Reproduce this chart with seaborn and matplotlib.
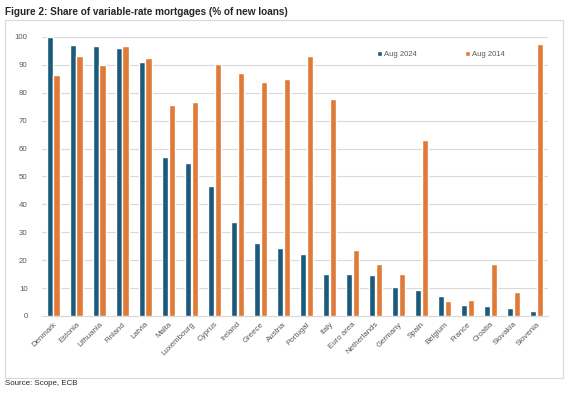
import numpy as np
import pandas as pd
import matplotlib.pyplot as plt
import seaborn as sns
from matplotlib.patches import Rectangle

countries = ["Denmark", "Estonia", "Lithuania", "Finland", "Latvia", "Malta",
             "Luxembourg", "Cyprus", "Ireland", "Greece", "Austria", "Portugal",
             "Italy", "Euro area", "Netherlands", "Germany", "Spain", "Belgium",
             "France", "Croatia", "Slovakia", "Slovenia"]
aug_2024 = [100, 97.2, 96.6, 95.9, 91.0, 56.8, 54.8, 46.6, 33.7, 26.0, 24.2, 22.1,
            15.2, 15.0, 14.6, 10.4, 9.3, 7.2, 3.8, 3.6, 3.0, 1.8]
aug_2014 = [86.5, 93.0, 89.8, 96.6, 92.4, 75.6, 76.7, 90.2, 87.1, 83.8, 84.9, 93.0,
            77.7, 23.6, 18.7, 15.0, 63.1, 5.4, 5.7, 18.8, 8.6, 97.6]

df = pd.DataFrame({
    "Country": countries * 2,
    "Share": aug_2024 + aug_2014,
    "Period": ["Aug 2024"] * len(countries) + ["Aug 2014"] * len(countries),
})

sns.set_style("white")
plt.rcParams["font.family"] = ["Liberation Sans", "DejaVu Sans"]

fig = plt.figure(figsize=(5.67, 3.93), dpi=100)
ax = fig.add_axes([0.0732, 0.196, 0.893, 0.710])

# grey frame round the chart
fig.patches.append(Rectangle((4.5 / 567, 1 - 377.5 / 393), 558.5 / 567, 357.5 / 393,
                             transform=fig.transFigure, fill=False,
                             edgecolor="#d9d9d9", linewidth=0.8))

sns.barplot(data=df, x="Country", y="Share", hue="Period",
            palette={"Aug 2024": "#1b5a7a", "Aug 2014": "#e07a38"},
            width=0.6, gap=0.12, ax=ax, saturation=1, zorder=3)

ax.set_ylim(0, 100)
ax.set_xlim(-0.5, len(countries) - 0.5)
ax.set_yticks(range(0, 101, 10))
ax.grid(axis="y", color="#d9d9d9", linewidth=0.8, zorder=0)
ax.set_axisbelow(True)
for s in ["top", "right", "left"]:
    ax.spines[s].set_visible(False)
ax.spines["bottom"].set_color("#d9d9d9")
ax.spines["bottom"].set_linewidth(0.8)
ax.set_xlabel("")
ax.set_ylabel("")
ax.tick_params(axis="both", length=0, colors="#595959", labelsize=5.7)
ax.tick_params(axis="y", pad=10)
plt.setp(ax.get_xticklabels(), rotation=45, ha="right", rotation_mode="anchor")

ax.legend(loc="upper left", bbox_to_anchor=(0.65, 0.975), ncol=2, frameon=False,
          fontsize=5.5, labelcolor="#595959", handlelength=0.6, handleheight=0.6,
          handletextpad=0.3, columnspacing=6.3)

fig.text(0.009, 0.969, "Figure 2: Share of variable-rate mortgages (% of new loans)",
         fontsize=7.2, fontweight="bold", va="center", ha="left")
fig.text(0.009, 0.023, "Source: Scope, ECB", fontsize=5.7, va="center", ha="left")

fig.savefig("out.png", dpi=100)
